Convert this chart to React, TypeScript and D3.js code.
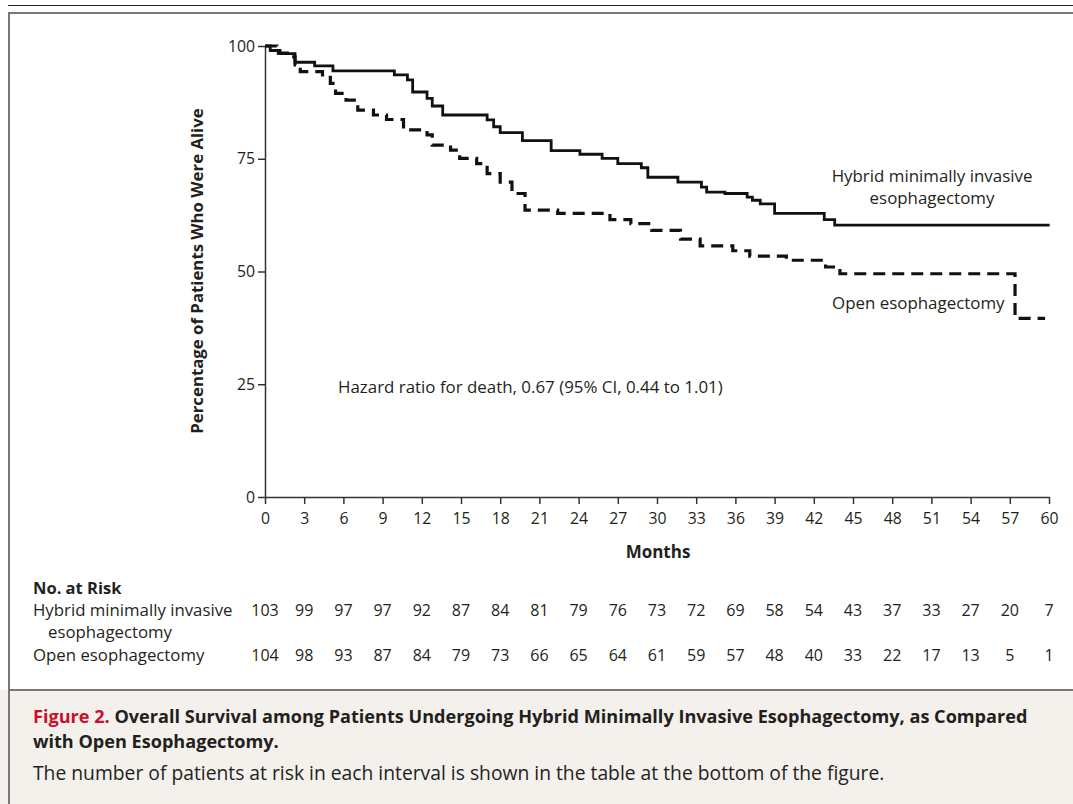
import * as d3 from "d3";
import { useEffect, useRef } from "react";

// Kaplan-Meier steps: [month, % alive]
const hybridSteps: [number, number][] = [
  [0, 100], [0.4, 99.0], [1.15, 98.3], [2.3, 96.4], [3.8, 95.6], [5.2, 94.5],
  [9.9, 93.6], [10.9, 92.5], [11.3, 89.8], [12.4, 88.4], [12.8, 86.7], [13.6, 84.7],
  [17.0, 83.6], [17.5, 82.1], [18.0, 80.8], [19.7, 79.0], [21.9, 76.8], [24.1, 76.0],
  [25.8, 75.1], [27.0, 73.9], [28.8, 73.0], [29.3, 70.9], [31.6, 69.8], [33.4, 68.7],
  [33.8, 67.6], [35.2, 67.3], [36.9, 66.5], [37.3, 65.8], [37.9, 65.0], [39.0, 62.9],
  [42.8, 61.5], [43.6, 60.3], [60.05, 60.3],
];

const openSteps: [number, number][] = [
  [0, 100], [0.9, 98.4], [1.7, 97.6], [2.3, 95.8], [2.7, 94.3], [4.4, 93.6],
  [5.0, 91.7], [5.4, 89.5], [6.2, 88.0], [7.1, 85.8], [8.3, 84.7], [9.3, 83.7],
  [10.6, 81.4], [12.4, 80.3], [12.8, 78.0], [14.2, 76.9], [14.9, 75.1], [16.2, 73.9],
  [17.0, 71.7], [18.0, 69.8], [18.9, 67.3], [19.9, 63.6], [22.4, 62.9], [26.4, 61.5],
  [28.0, 60.6], [29.6, 59.1], [31.8, 57.2], [33.3, 55.7], [35.8, 54.6], [37.1, 53.4],
  [39.9, 52.5], [42.9, 51.0], [44.0, 49.5], [57.4, 39.6], [59.7, 39.6],
];

const xTicks = d3.range(0, 61, 3);
const yTicks = [0, 25, 50, 75, 100];

const hybridAtRisk = [103, 99, 97, 97, 92, 87, 84, 81, 79, 76, 73, 72, 69, 58, 54, 43, 37, 33, 27, 20, 7];
const openAtRisk = [104, 98, 93, 87, 84, 79, 73, 66, 65, 64, 61, 59, 57, 48, 40, 33, 22, 17, 13, 5, 1];

const font = "'Open Sans', Lato, sans-serif";
const ink = "#231f20";

export default function App() {
  const width = 1073;
  const height = 804;
  const x = d3.scaleLinear().domain([0, 60]).range([265, 1049]);
  const y = d3.scaleLinear().domain([0, 100]).range([497, 46]);

  const line = d3
    .line<[number, number]>()
    .x((d) => x(d[0]))
    .y((d) => y(d[1]))
    .curve(d3.curveStepAfter);

  const xAxisRef = useRef<SVGGElement>(null);
  const yAxisRef = useRef<SVGGElement>(null);

  useEffect(() => {
    const xa = d3.select(xAxisRef.current!);
    xa.call(d3.axisBottom(x).tickValues(xTicks).tickSize(7).tickSizeOuter(0).tickPadding(9) as any);
    const ya = d3.select(yAxisRef.current!);
    ya.call(d3.axisLeft(y).tickValues(yTicks).tickSize(7).tickSizeOuter(0).tickPadding(3) as any);
    [xa, ya].forEach((g) => {
      g.selectAll("path").attr("stroke", "#333").attr("stroke-width", 1.5);
      g.selectAll("line").attr("stroke", "#333").attr("stroke-width", 1.5);
      g.selectAll("text")
        .attr("fill", ink)
        .style("font-family", font)
        .style("font-size", "15.8px");
    });
  }, []);

  return (
    <svg
      width={width}
      height={height}
      style={{ position: "absolute", left: 0, top: 0, background: "#fff" }}
    >
      {/* frame */}
      <line x1={8} x2={width} y1={5.5} y2={5.5} stroke="#222" strokeWidth={1.2} />
      <rect x={0} y={690} width={width} height={height - 690} fill="#f4f1ec" />
      <line x1={9} x2={width} y1={13} y2={13} stroke="#777" strokeWidth={2} />
      <line x1={9} x2={9} y1={12} y2={height} stroke="#777" strokeWidth={2} />
      <line x1={9} x2={width} y1={690} y2={690} stroke="#777" strokeWidth={2} />

      <g ref={xAxisRef} transform="translate(0,497)" />
      <g ref={yAxisRef} transform="translate(265,0)" />

      <path d={line(openSteps)!} fill="none" stroke="#111" strokeWidth={3.2} strokeDasharray="12,7" />
      <path d={line(hybridSteps)!} fill="none" stroke="#111" strokeWidth={2.8} />

      <text
        transform="translate(203,271) rotate(-90)"
        textAnchor="middle"
        fontFamily={font}
        fontWeight={700}
        fontSize={16.8}
        fill={ink}
      >
        Percentage of Patients Who Were Alive
      </text>
      <text x={658} y={558} textAnchor="middle" fontFamily={font} fontWeight={700} fontSize={17} fill={ink}>
        Months
      </text>

      <g fontFamily={font} fontSize={16.9} fill={ink}>
        <text x={338} y={393}>Hazard ratio for death, 0.67 (95% CI, 0.44 to 1.01)</text>
        <text x={932} y={182} textAnchor="middle">Hybrid minimally invasive</text>
        <text x={932} y={204} textAnchor="middle">esophagectomy</text>
        <text x={832} y={309}>Open esophagectomy</text>
      </g>

      {/* numbers at risk */}
      <g fontFamily={font} fontSize={16.8} fill={ink}>
        <text x={33} y={594} fontWeight={700} fontSize={16.5}>No. at Risk</text>
        <text x={33} y={616}>Hybrid minimally invasive</text>
        <text x={48} y={638}>esophagectomy</text>
        <text x={33} y={661}>Open esophagectomy</text>
      </g>
      <g fontFamily={font} fontSize={16} fill={ink}>
        {hybridAtRisk.map((n, i) => (
          <text key={"h" + i} x={x(xTicks[i])} y={616} textAnchor="middle">{n}</text>
        ))}
        {openAtRisk.map((n, i) => (
          <text key={"o" + i} x={x(xTicks[i])} y={661} textAnchor="middle">{n}</text>
        ))}
      </g>

      {/* caption */}
      <g fontFamily={font} fill={ink}>
        <text x={33} y={723} fontSize={18.1} fontWeight={700}>
          <tspan fill="#c8102e">Figure 2.</tspan> Overall Survival among Patients Undergoing Hybrid Minimally Invasive Esophagectomy, as Compared
        </text>
        <text x={33} y={748} fontSize={18.1} fontWeight={700}>with Open Esophagectomy.</text>
        <text x={33} y={780} fontSize={19.3}>
          The number of patients at risk in each interval is shown in the table at the bottom of the figure.
        </text>
      </g>
    </svg>
  );
}
